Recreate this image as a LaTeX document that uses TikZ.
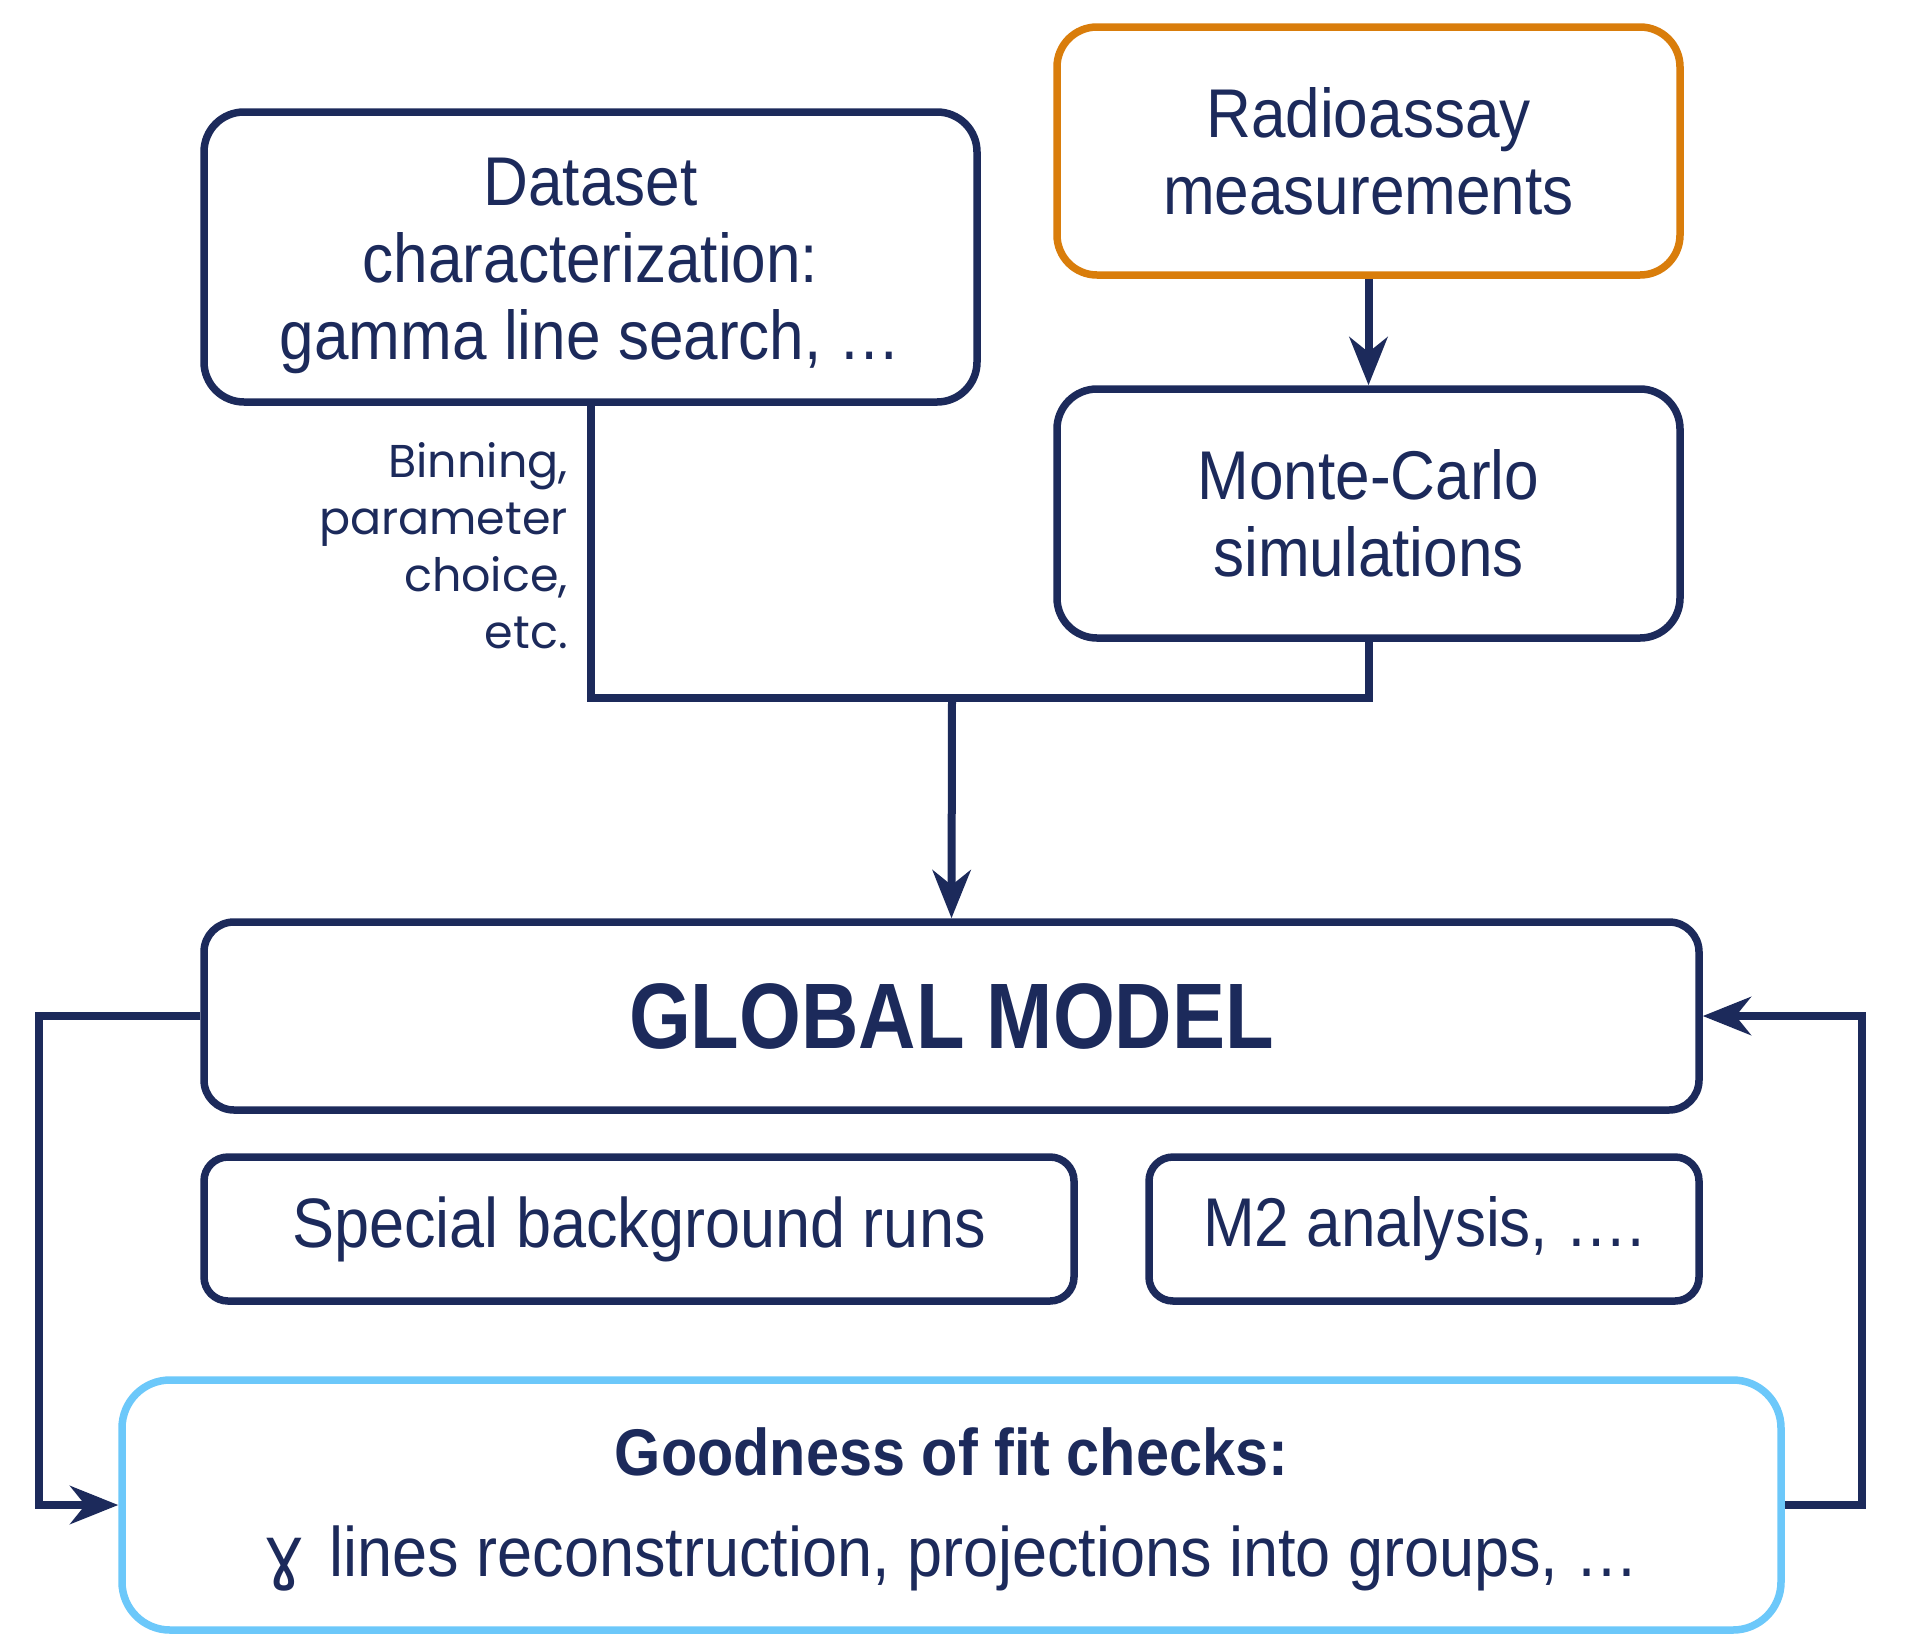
\documentclass[tikz,border=0pt]{standalone}
\usepackage{fontspec}
\usepackage{graphicx}
\setmainfont{Liberation Sans}[FakeStretch=0.9]
\newfontfamily\labelfont{Poppins}
\newfontfamily\gamfont{DejaVu Sans}
\usetikzlibrary{arrows.meta}
\definecolor{navy}{HTML}{1C2A5B}
\definecolor{orng}{HTML}{D97D0B}
\definecolor{lblue}{HTML}{6CC8FA}
\tikzset{
  box/.style={draw=navy, line width=7.5pt, rounded corners=40pt, text=navy, align=center, inner sep=0pt},
  smallbox/.style={box, rounded corners=24pt},
  conn/.style={draw=navy, line width=8pt},
  tip/.style={-{Stealth[length=48pt,width=38pt,inset=15pt]}},
  txt/.style={text=navy, align=center, inner sep=0pt},
}
\begin{document}
\begin{tikzpicture}[x=1pt,y=-1pt]
\useasboundingbox (0,0) rectangle (1908,1636);
\fill[white] (0,0) rectangle (1908,1636);
\node[box, minimum width=773pt, minimum height=290pt] (ds) at (590.5,257) {};
\node[txt, font=\fontsize{69}{77}\selectfont] (dst) at (590.5,266) {Dataset\\characterization:\\gamma line search, …};
\node[box, draw=orng, minimum width=623pt, minimum height=248pt, font=\fontsize{69}{77}\selectfont] (ra) at (1368.5,151) {Radioassay\\measurements};
\node[box, minimum width=623pt, minimum height=249pt, font=\fontsize{69}{77}\selectfont] (mc) at (1368.5,513.5) {Monte-Carlo\\simulations};
\node[box, rounded corners=30pt, minimum width=1495pt, minimum height=188pt, font=\fontsize{93}{100}\selectfont\bfseries] (gm) at (951.5,1016) {\scalebox{0.95}[1]{GLOBAL MODEL}};
\node[smallbox, minimum width=870pt, minimum height=144pt, font=\fontsize{70}{77}\selectfont] (sb) at (639,1229) {Special background runs};
\node[smallbox, minimum width=550pt, minimum height=144pt, font=\fontsize{69}{77}\selectfont] (m2) at (1424,1229) {M2 analysis, ….};
\node[box, draw=lblue, rounded corners=48pt, minimum width=1659pt, minimum height=250pt] (gof) at (951.5,1505) {};
\node[txt, font=\fontsize{66}{66}\selectfont\bfseries] (goft) at (951.5,1452) {Goodness of fit checks:};
\node[txt, font=\fontsize{70}{70}\selectfont] (gofl) at (951.5,1558) {{\gamfont ɣ}\hspace{24pt}lines reconstruction, projections into groups, …};
\node[anchor=east, align=right, text=navy, inner sep=0pt, font=\labelfont\fontsize{46}{57}\selectfont] (lab) at (568,546) {Binning,\\parameter\\choice,\\etc.};
\coordinate (j) at (952,698);
\draw[conn] (ds.south) |- (j) -| (mc.south);
\draw[conn, tip] (j) -- (gm.north);
\draw[conn, tip] (ra.south) -- (mc.north);
\draw[conn, tip] (gm.west) -- ++(-161,0) |- (gof.west);
\draw[conn, tip] (gof.east) -- ++(77,0) |- (gm.east);
\end{tikzpicture}
\end{document}
